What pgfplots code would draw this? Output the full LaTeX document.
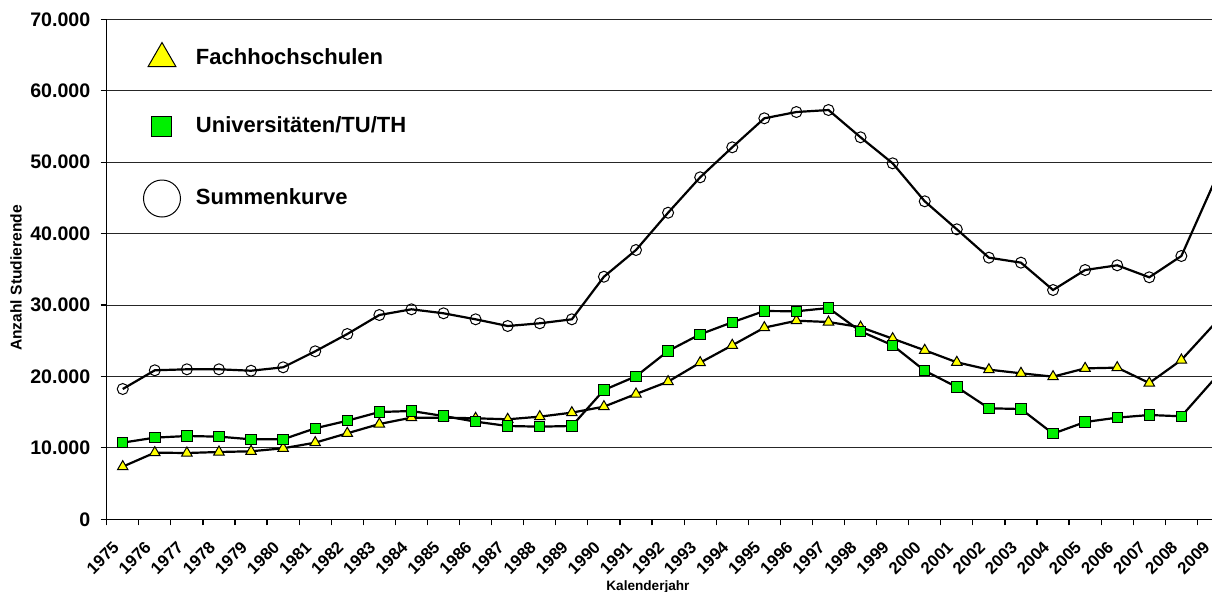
\documentclass[border=0pt]{standalone}
\usepackage{pgfplots}
\usepackage{pgfplotstable}
\pgfplotsset{compat=1.18}
\usepackage{fontspec}
\setmainfont{Liberation Sans}
\definecolor{fhyellow}{RGB}{255,255,0}
\definecolor{unigreen}{RGB}{0,240,0}

\pgfplotsset{
  legtri/.style={legend image code/.code={\path[draw=none,fill=none] (-10pt,-10pt) rectangle (10pt,10pt); \draw[##1, mark size=8pt] plot coordinates {(0pt,0pt)};}},
  legsq/.style={legend image code/.code={\path[draw=none,fill=none] (-10pt,-10pt) rectangle (10pt,10pt); \draw[##1, mark size=5pt] plot coordinates {(0pt,0pt)};}},
  legcirc/.style={legend image code/.code={\path[draw=none,fill=none] (-10pt,-10pt) rectangle (10pt,12pt); \draw[##1, mark size=9.25pt] plot coordinates {(0pt,0pt)};}},
}

\pgfplotstableread{
x fh uni sum
0 7370 10730 18240
1 9330 11430 20860
2 9280 11660 21000
3 9420 11570 21000
4 9520 11200 20800
5 9940 11200 21280
6 10730 12740 23520
7 12040 13800 25940
8 13340 15020 28600
9 14230 15160 29400
10 14230 14460 28840
11 14140 13670 28000
12 14000 13060 27060
13 14370 12970 27440
14 14930 13060 28000
15 15770 18100 33960
16 17540 20020 37700
17 19270 23560 42920
18 21930 25900 47880
19 24360 27580 52080
20 26830 29160 56140
21 27800 29120 57020
22 27620 29580 57300
23 26900 26320 53480
24 25290 24360 49840
25 23660 20800 44520
26 21980 18520 40600
27 20950 15540 36630
28 20440 15440 35930
29 19970 11990 32100
30 21130 13620 34900
31 21230 14230 35560
32 19080 14600 33880
33 22300 14420 36860
34 27200 19500 46940
}\datatable

\begin{document}
\begin{tikzpicture}
\begin{axis}[
  at={(0,0)}, anchor=south west,
  scale only axis, width=552.65pt, height=250pt,
  xmin=-0.5, xmax=33.955, ymin=0, ymax=70000,
  scaled y ticks=false,
  axis x line*=bottom, axis y line*=left,
  axis line style={-, black, line width=0.6pt},
  tick align=outside,
  major tick length=3pt, minor tick length=3pt,
  ytick={0,10000,20000,30000,40000,50000,60000,70000},
  yticklabels={0,10.000,20.000,30.000,40.000,50.000,60.000,70.000},
  yticklabel style={font=\fontsize{9.8}{11}\selectfont\bfseries, inner sep=0pt, xshift=-5pt},
  major y tick style={black, line width=0.6pt},
  xtick={-0.12,0.88,1.88,2.88,3.88,4.88,5.88,6.88,7.88,8.88,9.88,10.88,11.88,12.88,13.88,14.88,15.88,16.88,17.88,18.88,19.88,20.88,21.88,22.88,23.88,24.88,25.88,26.88,27.88,28.88,29.88,30.88,31.88,32.88,33.88},
  xticklabels={1975,1976,1977,1978,1979,1980,1981,1982,1983,1984,1985,1986,1987,1988,1989,1990,1991,1992,1993,1994,1995,1996,1997,1998,1999,2000,2001,2002,2003,2004,2005,2006,2007,2008,2009},
  major x tick style={draw=none},
  minor xtick={-0.5,0.5,1.5,2.5,3.5,4.5,5.5,6.5,7.5,8.5,9.5,10.5,11.5,12.5,13.5,14.5,15.5,16.5,17.5,18.5,19.5,20.5,21.5,22.5,23.5,24.5,25.5,26.5,27.5,28.5,29.5,30.5,31.5,32.5,33.5},
  minor x tick style={black, line width=0.6pt},
  xticklabel style={rotate=45, anchor=north east, inner sep=0pt, font=\fontsize{8.4}{9}\selectfont\bfseries, xshift=-7.7pt, yshift=-2.6pt},
  ymajorgrids, grid style={black!85, line width=0.5pt},
  xlabel={Kalenderjahr},
  xlabel style={at={(axis description cs:0.4897,0)}, anchor=center, yshift=-33.6pt, font=\fontsize{6.8}{8}\selectfont\bfseries},
  ylabel={Anzahl Studierende},
  ylabel style={at={(axis description cs:-0.08206,0.4826)}, anchor=center, font=\fontsize{7.8}{9}\selectfont\bfseries},
  clip marker paths=true,
  legend style={at={(axis description cs:0.03194,0.9616)}, anchor=north west, draw=none, fill=none, inner sep=0pt, outer sep=0pt, row sep=14pt, column sep=7pt, nodes={inner sep=0pt}, font=\fontsize{11}{13}\selectfont\bfseries},
  legend cell align=left,
]
\addplot[black, line width=1.1pt, mark=triangle*, mark size=3pt,
  mark options={solid, line width=0.5pt, draw=black, fill=fhyellow}, legtri
] table[x=x, y=fh] {\datatable};
\addlegendentry{Fachhochschulen}
\addplot[black, line width=1.1pt, mark=square*, mark size=2.6pt,
  mark options={solid, line width=0.5pt, draw=black, fill=unigreen}, legsq
] table[x=x, y=uni] {\datatable};
\addlegendentry{Universitäten/TU/TH}
\addplot[black, line width=1.1pt, mark=o, mark size=2.75pt,
  mark options={solid, line width=0.5pt, draw=black}, legcirc
] table[x=x, y=sum] {\datatable};
\addlegendentry{Summenkurve}
\end{axis}
\pgfresetboundingbox
\path[use as bounding box] (-53.35pt,-36.35pt) rectangle (552.65pt,259.65pt);
\end{tikzpicture}
\end{document}
